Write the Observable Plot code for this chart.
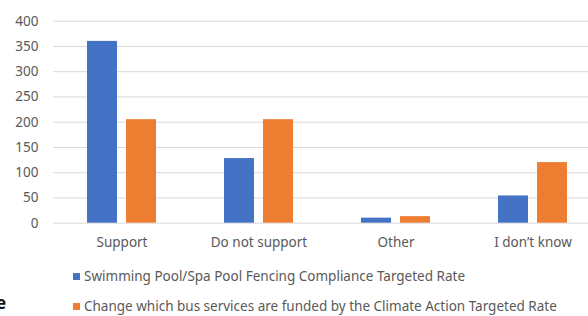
<!DOCTYPE html>
<html>
<head>
<meta charset="utf-8">
<script src="https://cdn.jsdelivr.net/npm/d3@7"></script>
<script src="https://cdn.jsdelivr.net/npm/@observablehq/plot@0.6"></script>
<style>
  html, body { margin: 0; padding: 0; background: #fff; overflow: hidden; }
  #wrap { position: relative; width: 588px; height: 316px; font-family: "Noto Sans", sans-serif; }
  #chart svg { display: block; }
  .leg { position: absolute; left: 73px; height: 14px; display: flex; align-items: center; font-size: 13.5px; color: #595959; white-space: nowrap; }
  .leg .sw { width: 7px; height: 7px; margin-right: 4px; flex: none; }
  #cut { position: absolute; left: -4px; top: 293px; font: bold 17px "Noto Sans", sans-serif; color: #111; line-height: 20px; }
</style>
</head>
<body>
<div id="wrap">
  <div id="chart"></div>
  <div id="legend"></div>
  <div id="cut">e</div>
</div>
<script>
const categories = ["Support", "Do not support", "Other", "I don\u2019t know"];
const seriesNames = [
  "Swimming Pool/Spa Pool Fencing Compliance Targeted Rate",
  "Change which bus services are funded by the Climate Action Targeted Rate"
];
const poolValues = [360, 128, 10, 54];
const busValues = [205, 205, 13, 120];
const seriesColors = ["#4472C4", "#ED7D31"];
const yTicks = [0, 50, 100, 150, 200, 250, 300, 350, 400];

const data = [];
categories.forEach((c, i) => {
  data.push({category: c, series: seriesNames[0], value: poolValues[i]});
  data.push({category: c, series: seriesNames[1], value: busValues[i]});
});

const chart = Plot.plot({
  width: 588,
  height: 255,
  marginLeft: 51,
  marginRight: -14,
  marginTop: 20.7,
  marginBottom: 32.3,
  style: {fontFamily: "Noto Sans, sans-serif", fontSize: "13.5px", color: "#595959", background: "#fff"},
  fx: {domain: categories, padding: 0, label: null},
  x: {domain: seriesNames, paddingInner: 0.225, paddingOuter: 0.834, axis: null},
  y: {domain: [0, 400], label: null},
  color: {domain: seriesNames, range: seriesColors},
  marks: [
    Plot.gridY(yTicks, {stroke: "#d9d9d9", strokeOpacity: 1, strokeWidth: 1}),
    Plot.axisY(yTicks, {tickSize: 0, tickPadding: 15, label: null, fill: "#595959"}),
    Plot.barY(data, {fx: "category", x: "series", y: "value", fill: "series"}),
    Plot.axisFx({anchor: "bottom", tickSize: 0, tickPadding: 14.4, label: null, fill: "#595959"})
  ]
});
document.getElementById("chart").appendChild(chart);

const legend = document.getElementById("legend");
const legendTops = [269, 299];
seriesNames.forEach((s, i) => {
  const d = document.createElement("div");
  d.className = "leg";
  d.style.top = legendTops[i] + "px";
  const sw = document.createElement("span");
  sw.className = "sw";
  sw.style.background = seriesColors[i];
  const t = document.createElement("span");
  t.textContent = s;
  d.appendChild(sw);
  d.appendChild(t);
  legend.appendChild(d);
});
</script>
</body>
</html>
